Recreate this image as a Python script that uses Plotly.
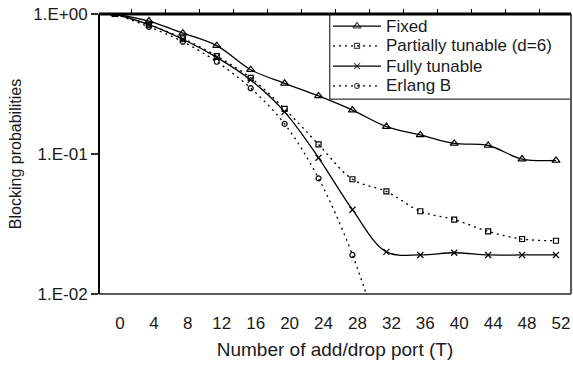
import plotly.graph_objects as go

# Number of add/drop ports
ports = [0, 4, 8, 12, 16, 20, 24, 28, 32, 36, 40, 44, 48, 52]
port_labels = [str(p) for p in ports]

# Blocking probabilities per architecture
fixed = [1.0, 0.89, 0.73, 0.594, 0.40, 0.32, 0.26, 0.206, 0.157, 0.137, 0.119, 0.115, 0.092, 0.090]
partial = [1.0, 0.84, 0.67, 0.50, 0.35, 0.21, 0.117, 0.066, 0.054, 0.039, 0.034, 0.028, 0.0247, 0.024]
fully = [1.0, 0.84, 0.66, 0.49, 0.338, 0.200, 0.094, 0.040, 0.020, 0.019, 0.0197, 0.019, 0.019, 0.019]
erlang_ports = [0, 4, 8, 12, 16, 20, 24, 28, 32]
erlang = [1.0, 0.81, 0.634, 0.456, 0.295, 0.164, 0.067, 0.019, 0.0035]

y_ticks = [1, 0.1, 0.01]
y_tick_text = ["1.E+00", "1.E-01", "1.E-02"]
top_ticks = [2, 6, 10, 14, 18, 22, 26, 30, 34, 38, 42, 46, 50]

FONT = "Liberation Sans, Arial, sans-serif"
INK = "#1a1a1a"
DOTS = "2px,4px"

series = [
    ("Fixed", ports, fixed, "solid", "triangle-up-open", 7),
    ("Partially tunable (d=6)", ports, partial, DOTS, "square-open", 5),
    ("Fully tunable", ports, fully, "solid", "x-thin-open", 6),
    ("Erlang B", erlang_ports, erlang, DOTS, "circle-open", 5),
]

fig = go.Figure()
for name, xs, ys, dash, symbol, size in series:
    fig.add_trace(go.Scatter(
        x=xs, y=ys, name=name, mode="lines+markers", showlegend=False,
        line=dict(color="black", width=1.3, dash=dash, shape="spline", smoothing=1),
        marker=dict(symbol=symbol, size=size, color="black",
                    line=dict(color="black", width=1.2)),
    ))

# invisible trace carrying the top tick marks
fig.add_trace(go.Scatter(x=[None], y=[None], xaxis="x2", showlegend=False))

# Hand-built legend box in plot-area fractions
leg_x0, leg_x1 = 0.489, 1.0
leg_y0, leg_y1 = 0.696, 1.0
row_y = [0.957, 0.886, 0.814, 0.743]
samp_x0, samp_x1, samp_xm = 0.4958, 0.5975, 0.5466
text_x = 0.603

shapes = [
    dict(type="rect", xref="paper", yref="paper", x0=leg_x0, x1=leg_x1, y0=leg_y0, y1=leg_y1,
         line=dict(color="black", width=1), fillcolor="white", layer="below"),
]
annotations = []
for (name, _, _, dash, _, _), ry in zip(series, row_y):
    shapes.append(dict(type="line", xref="paper", yref="paper", x0=samp_x0, x1=samp_x1,
                       y0=ry, y1=ry, line=dict(color="black", width=1.3, dash=dash),
                       layer="below"))
    annotations.append(dict(xref="paper", yref="paper", x=text_x, y=ry, text=name,
                            showarrow=False, xanchor="left", yanchor="middle",
                            font=dict(family=FONT, size=17, color=INK)))

fig.add_trace(go.Scatter(
    x=[samp_xm] * 4, y=row_y, xaxis="x3", yaxis="y3", mode="markers", showlegend=False,
    hoverinfo="skip",
    marker=dict(symbol=[s[4] for s in series], size=[s[5] for s in series], color="black",
                line=dict(color="black", width=1.2)),
))

# frame: dark left/top, grey bottom/right
shapes += [
    dict(type="line", xref="paper", yref="paper", x0=0, x1=1, y0=0, y1=0,
         line=dict(color="#5a5a5a", width=2)),
    dict(type="line", xref="paper", yref="paper", x0=1, x1=1, y0=0, y1=1,
         line=dict(color="#5a5a5a", width=2)),
    dict(type="line", xref="paper", yref="paper", x0=0, x1=0, y0=0, y1=1,
         line=dict(color="black", width=2)),
    dict(type="line", xref="paper", yref="paper", x0=0, x1=1, y0=1, y1=1,
         line=dict(color="black", width=3)),
]

fig.update_layout(
    width=573, height=366,
    margin=dict(l=99, r=2, t=14, b=72),
    paper_bgcolor="white", plot_bgcolor="white",
    font=dict(family=FONT, size=16, color=INK),
    showlegend=False,
    xaxis=dict(
        range=[-1.887, 53.77], tickmode="array", tickvals=ports, ticktext=port_labels,
        showgrid=False, zeroline=False, showline=False, ticks="",
        ticklabelstandoff=17, ticklabelshift=5,
        tickfont=dict(size=17, color=INK),
        title=dict(text="Number of add/drop port (T)", font=dict(size=19, color=INK), standoff=10),
    ),
    xaxis2=dict(
        range=[-1.887, 53.77], overlaying="x", side="top", anchor="y",
        tickmode="array", tickvals=top_ticks, showticklabels=False,
        ticks="outside", ticklen=4, tickwidth=1, tickcolor="black",
        showgrid=False, zeroline=False, showline=False,
    ),
    xaxis3=dict(range=[0, 1], overlaying="x", anchor="y3", visible=False),
    yaxis=dict(
        type="log", range=[-2, 0], tickmode="array", tickvals=y_ticks, ticktext=y_tick_text,
        showgrid=False, zeroline=False, showline=False,
        ticks="outside", ticklen=7, tickwidth=1.5, tickcolor="#333",
        tickfont=dict(size=17, color=INK),
        title=dict(text="Blocking probabilities", font=dict(size=16, color=INK), standoff=7),
    ),
    yaxis3=dict(range=[0, 1], overlaying="y", anchor="x3", visible=False),
    shapes=shapes,
    annotations=annotations,
)

fig.write_html("out.html")
